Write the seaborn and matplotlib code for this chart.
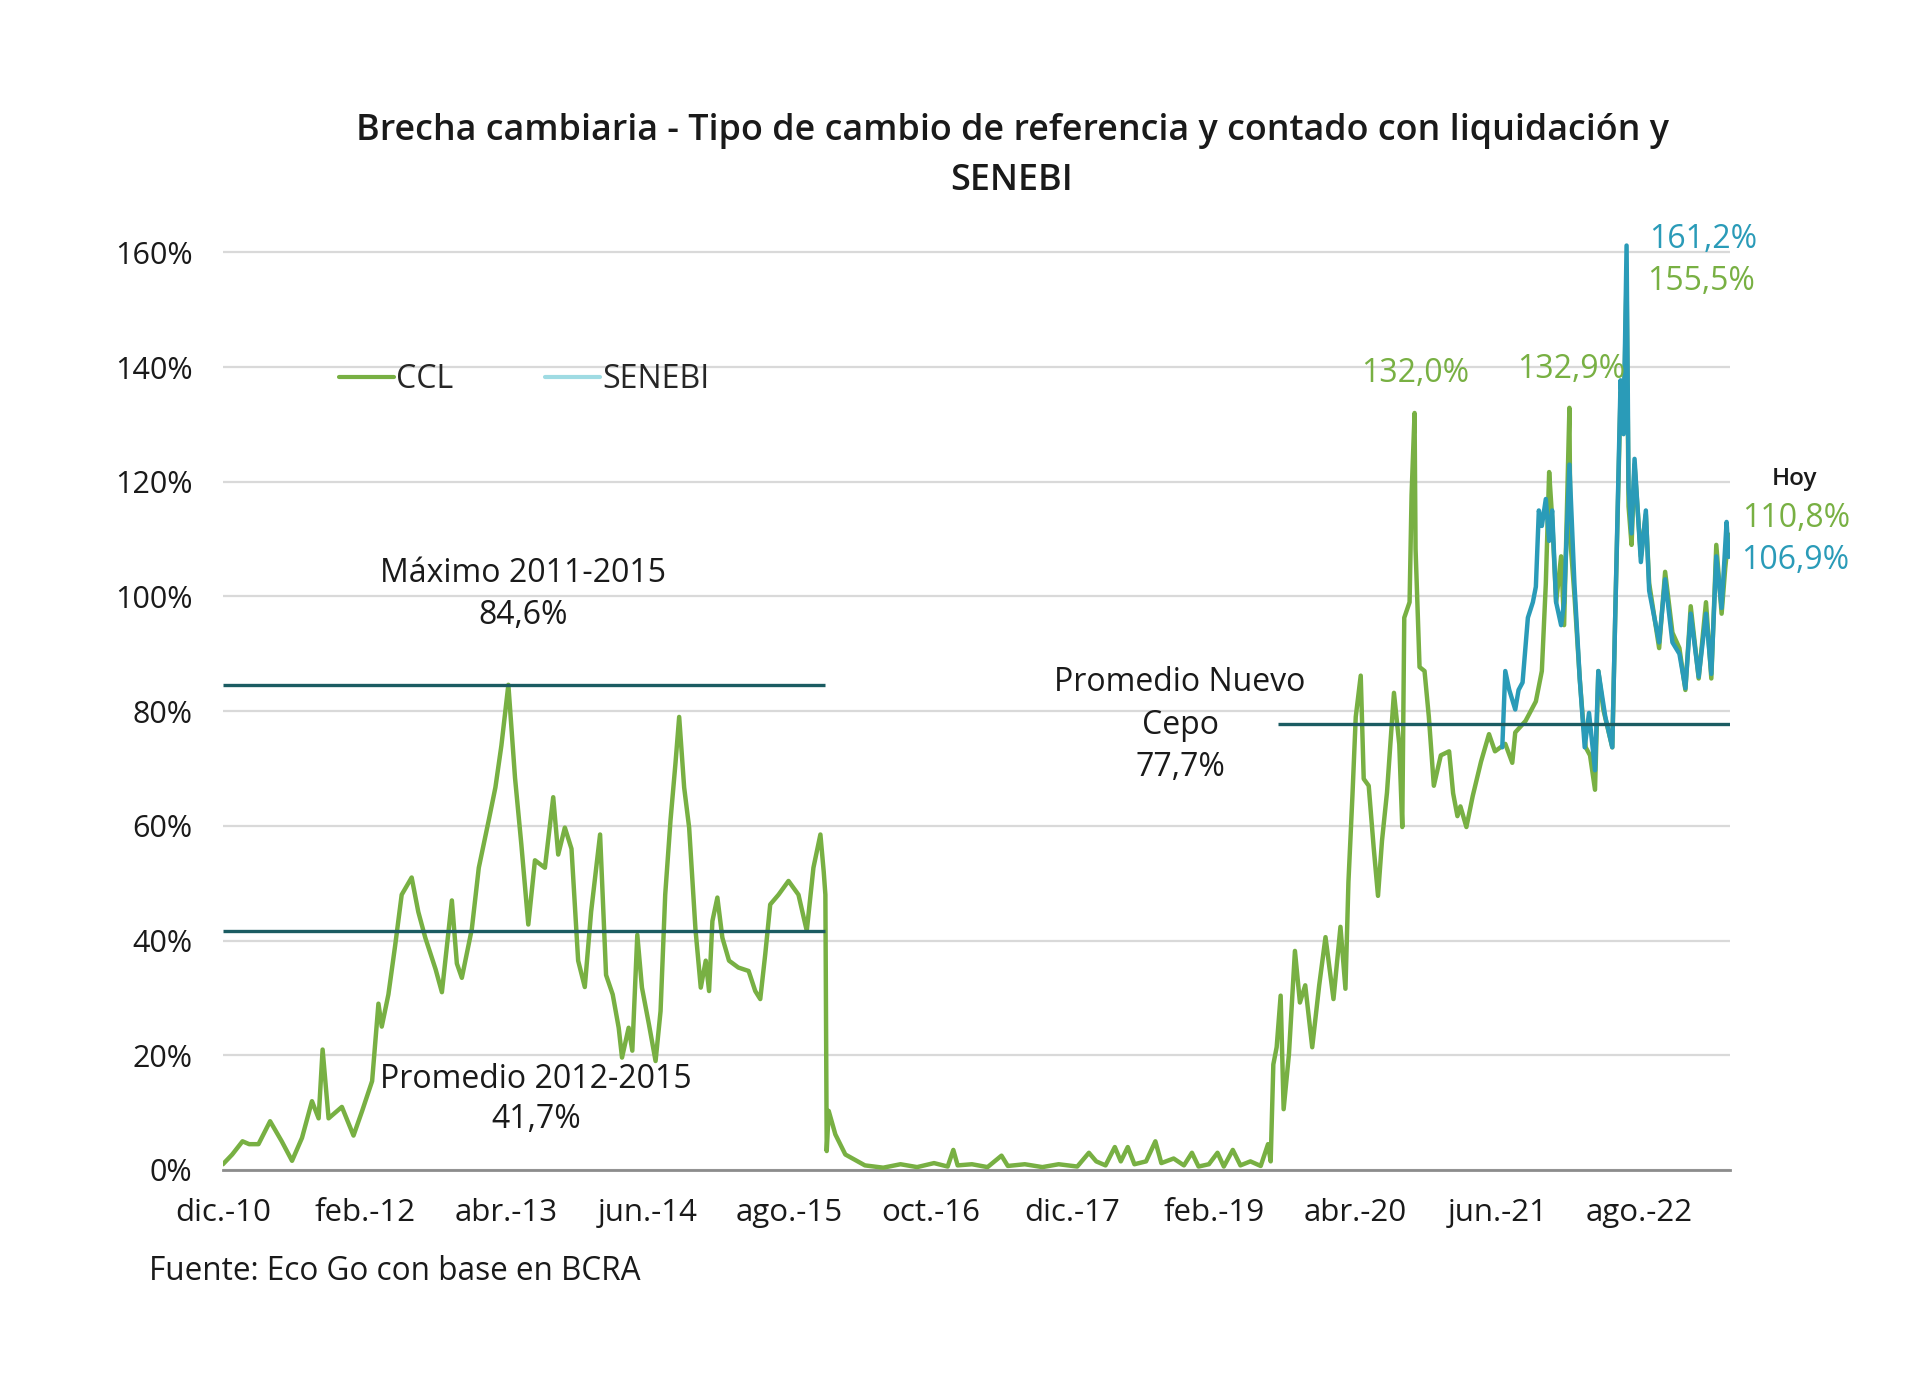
import pandas as pd
import matplotlib.pyplot as plt
from matplotlib.lines import Line2D
from matplotlib.ticker import FuncFormatter
import seaborn as sns

# Brecha CCL (%)
ccl_fechas = [
    "2010-12-01", "2010-12-29", "2011-01-29", "2011-02-18", "2011-03-18", "2011-04-22",
    "2011-05-27", "2011-06-27", "2011-07-27", "2011-08-26", "2011-09-15", "2011-09-27",
    "2011-10-15", "2011-11-24", "2011-12-29", "2012-01-24", "2012-02-23", "2012-03-13",
    "2012-03-23", "2012-04-12", "2012-05-02", "2012-05-22", "2012-06-21", "2012-07-11",
    "2012-08-01", "2012-09-01", "2012-09-20", "2012-10-20", "2012-11-04", "2012-11-19",
    "2012-12-19", "2013-01-09", "2013-02-08", "2013-02-28", "2013-03-18", "2013-04-08",
    "2013-04-28", "2013-05-17", "2013-06-07", "2013-06-27", "2013-07-27", "2013-08-21",
    "2013-09-05", "2013-09-25", "2013-10-15", "2013-11-04", "2013-11-24", "2013-12-13",
    "2014-01-09", "2014-01-27", "2014-02-16", "2014-03-06", "2014-03-16", "2014-04-05",
    "2014-04-16", "2014-05-01", "2014-05-15", "2014-06-05", "2014-06-25", "2014-07-10",
    "2014-07-24", "2014-08-09", "2014-08-24", "2014-09-04", "2014-09-19", "2014-10-04",
    "2014-10-23", "2014-11-08", "2014-11-23", "2014-12-03", "2014-12-13", "2014-12-28",
    "2015-01-12", "2015-02-01", "2015-03-01", "2015-04-01", "2015-04-21", "2015-05-06",
    "2015-05-21", "2015-06-05", "2015-06-30", "2015-07-30", "2015-08-29", "2015-09-23",
    "2015-10-13", "2015-11-03", "2015-11-13", "2015-11-18", "2015-11-22", "2015-11-28",
    "2015-12-18", "2016-01-17", "2016-03-16", "2016-05-10", "2016-07-01", "2016-08-20",
    "2016-10-10", "2016-11-20", "2016-12-07", "2016-12-20", "2017-02-01", "2017-03-20",
    "2017-05-01", "2017-05-20", "2017-07-10", "2017-09-01", "2017-10-20", "2017-12-15",
    "2018-01-19", "2018-02-10", "2018-03-10", "2018-04-07", "2018-04-25", "2018-05-16",
    "2018-06-05", "2018-07-10", "2018-08-07", "2018-08-25", "2018-10-01", "2018-11-01",
    "2018-11-25", "2018-12-15", "2019-01-15", "2019-02-10", "2019-03-01", "2019-03-28",
    "2019-04-20", "2019-05-20", "2019-06-20", "2019-07-12", "2019-07-20", "2019-07-28",
    "2019-08-07", "2019-08-19", "2019-08-28", "2019-09-13", "2019-10-01", "2019-10-16",
    "2019-11-01", "2019-11-22", "2019-12-13", "2020-01-01", "2020-01-25", "2020-02-15",
    "2020-03-01", "2020-03-10", "2020-03-22", "2020-04-01", "2020-04-16", "2020-04-25",
    "2020-05-10", "2020-05-25", "2020-06-07", "2020-06-19", "2020-07-04", "2020-07-25",
    "2020-08-10", "2020-08-19", "2020-08-25", "2020-09-10", "2020-09-16", "2020-09-25",
    "2020-09-28", "2020-10-10", "2020-10-25", "2020-11-07", "2020-11-22", "2020-12-13",
    "2021-01-07", "2021-01-19", "2021-02-01", "2021-02-10", "2021-02-28", "2021-03-19",
    "2021-04-13", "2021-05-07", "2021-05-25", "2021-06-25", "2021-07-16", "2021-07-25",
    "2021-08-25", "2021-09-25", "2021-10-13", "2021-10-25", "2021-11-04", "2021-11-13",
    "2021-11-25", "2021-12-10", "2021-12-19", "2022-01-04", "2022-01-07", "2022-01-19",
    "2022-02-04", "2022-02-13", "2022-02-22", "2022-03-07", "2022-03-22", "2022-04-01",
    "2022-04-16", "2022-05-13", "2022-05-22", "2022-06-07", "2022-06-16", "2022-06-25",
    "2022-07-01", "2022-07-10", "2022-07-19", "2022-08-07", "2022-08-22", "2022-09-01",
    "2022-10-01", "2022-10-19", "2022-11-10", "2022-12-01", "2022-12-19", "2023-01-04",
    "2023-01-28", "2023-02-19", "2023-03-07", "2023-03-22", "2023-04-07", "2023-04-18",
    "2023-04-28",
]
ccl_brecha = [
    1.0, 2.7, 5.0, 4.5, 4.5, 8.5,
    5.0, 1.6, 5.6, 12.0, 9.0, 21.0,
    9.0, 11.0, 6.0, 10.3, 15.5, 29.0,
    25.0, 30.6, 39.0, 48.0, 51.0, 45.0,
    40.5, 35.0, 31.0, 47.0, 36.0, 33.5,
    42.0, 52.7, 61.0, 66.7, 74.0, 84.6,
    68.4, 56.8, 42.8, 54.0, 52.7, 65.0,
    55.0, 59.7, 56.0, 36.5, 31.9, 45.0,
    58.5, 34.0, 30.6, 24.8, 19.6, 24.8,
    20.8, 41.0, 31.8, 25.4, 19.0, 27.7,
    48.0, 61.0, 71.0, 79.0, 66.7, 59.7,
    42.0, 31.8, 36.5, 31.2, 43.4, 47.5,
    40.5, 36.5, 35.3, 34.7, 31.2, 29.8,
    37.6, 46.3, 48.0, 50.4, 48.0, 41.7,
    52.7, 58.5, 52.0, 48.0, 3.3, 10.3,
    6.2, 2.7, 0.8, 0.4, 1.0, 0.5,
    1.2, 0.6, 3.5, 0.8, 1.0, 0.5,
    2.5, 0.7, 1.0, 0.5, 1.0, 0.6,
    3.0, 1.5, 0.8, 4.0, 1.5, 4.0,
    1.0, 1.5, 5.0, 1.2, 2.0, 0.8,
    3.0, 0.6, 1.0, 3.0, 0.6, 3.5,
    0.8, 1.5, 0.7, 4.5, 1.5, 18.4,
    21.4, 30.4, 10.6, 20.2, 38.2, 29.2,
    32.2, 21.4, 32.2, 40.6, 29.8, 42.4,
    31.6, 50.2, 65.2, 79.0, 86.2, 68.2,
    67.0, 56.2, 47.8, 57.4, 65.8, 83.2,
    74.2, 59.8, 96.3, 99.0, 117.7, 132.0,
    108.3, 87.7, 87.0, 79.0, 67.0, 72.3,
    73.0, 65.7, 61.7, 63.4, 59.8, 65.2,
    71.2, 76.0, 73.0, 74.3, 71.0, 76.3,
    78.3, 81.7, 87.0, 102.3, 121.7, 113.7,
    99.0, 107.0, 95.0, 132.9, 109.7, 100.3,
    85.7, 79.0, 73.7, 72.3, 66.3, 87.0,
    80.3, 73.7, 97.0, 135.7, 129.7, 155.5,
    115.7, 109.0, 123.0, 107.0, 114.3, 102.3,
    91.0, 104.3, 93.7, 91.0, 83.7, 98.3,
    85.7, 99.0, 85.7, 109.0, 97.0, 105.0,
    110.8,
]

# Brecha SENEBI (%)
senebi_fechas = [
    "2021-06-16", "2021-06-25", "2021-07-07", "2021-07-25", "2021-08-04", "2021-08-16",
    "2021-09-01", "2021-09-16", "2021-09-25", "2021-10-04", "2021-10-13", "2021-10-25",
    "2021-11-04", "2021-11-13", "2021-11-25", "2021-12-10", "2021-12-19", "2022-01-04",
    "2022-01-19", "2022-02-04", "2022-02-19", "2022-03-04", "2022-03-22", "2022-04-01",
    "2022-04-22", "2022-05-13", "2022-05-22", "2022-06-07", "2022-06-16", "2022-06-25",
    "2022-07-01", "2022-07-10", "2022-07-19", "2022-08-07", "2022-08-22", "2022-09-01",
    "2022-10-01", "2022-10-19", "2022-11-10", "2022-12-01", "2022-12-19", "2023-01-04",
    "2023-01-28", "2023-02-19", "2023-03-07", "2023-03-22", "2023-04-07", "2023-04-22",
    "2023-04-28",
]
senebi_brecha = [
    73.7, 87.0, 83.7, 80.3, 83.7, 85.0,
    96.3, 99.0, 101.7, 115.0, 112.3, 117.0,
    109.7, 115.0, 99.0, 95.0, 99.0, 123.0,
    102.3, 85.7, 73.7, 79.7, 69.7, 87.0,
    79.0, 73.7, 97.0, 137.7, 128.3, 161.2,
    119.0, 111.0, 124.0, 106.0, 115.0, 101.0,
    92.0, 103.0, 92.0, 90.0, 84.0, 97.0,
    86.0, 97.0, 86.5, 107.0, 98.0, 113.0,
    106.9,
]

# niveles de referencia
maximo_fechas = ["2010-12-01", "2015-11-16"]
maximo_valor = [84.6, 84.6]
promedio_fechas = ["2010-12-01", "2015-11-16"]
promedio_valor = [41.7, 41.7]
cepo_fechas = ["2019-08-10", "2023-05-02"]
cepo_valor = [77.7, 77.7]

tick_fechas = ["2010-12-01", "2012-02-01", "2013-04-01", "2014-06-01", "2015-08-01", "2016-10-01",
               "2017-12-01", "2019-02-01", "2020-04-01", "2021-06-01", "2022-08-01"]
tick_labels = ["dic.-10", "feb.-12", "abr.-13", "jun.-14", "ago.-15", "oct.-16",
               "dic.-17", "feb.-19", "abr.-20", "jun.-21", "ago.-22"]

VERDE = "#78b043"
AZUL = "#2a9bb8"
TEAL = "#1b5c62"
NEGRO = "#1a1a1a"

sns.set_style("white")
plt.rcParams['font.family'] = ['Open Sans', 'DejaVu Sans']

ccl = pd.DataFrame({'fecha': pd.to_datetime(ccl_fechas), 'brecha': ccl_brecha})
senebi = pd.DataFrame({'fecha': pd.to_datetime(senebi_fechas), 'brecha': senebi_brecha})

fig = plt.figure(figsize=(19.2, 13.92), dpi=100)
ax = fig.add_axes([0.1161, 0.1595, 0.7849, 0.6839])

sns.lineplot(data=ccl, x='fecha', y='brecha', color=VERDE, lw=3.2, ax=ax, zorder=3)
sns.lineplot(data=senebi, x='fecha', y='brecha', color=AZUL, lw=3.2, ax=ax, zorder=4)
for f, v in [(maximo_fechas, maximo_valor), (promedio_fechas, promedio_valor), (cepo_fechas, cepo_valor)]:
    ax.plot(pd.to_datetime(f), v, color=TEAL, lw=2.4, zorder=5, solid_capstyle='butt')

ax.set_xlim(pd.Timestamp("2010-12-01"), pd.Timestamp("2023-05-02"))
ax.set_ylim(0, 166)
ax.set_yticks(range(0, 161, 20))
ax.yaxis.set_major_formatter(FuncFormatter(lambda v, p: f"{v:.0f}%"))
ax.grid(axis='y', color='#d9d9d9', lw=1.6)
ax.grid(axis='x', visible=False)
ax.set_xticks(pd.to_datetime(tick_fechas))
ax.set_xticklabels(tick_labels)
ax.set_xlabel('')
ax.set_ylabel('')
for s in ['top', 'right', 'left']:
    ax.spines[s].set_visible(False)
ax.spines['bottom'].set_color('#8c8c8c')
ax.spines['bottom'].set_linewidth(2)
ax.tick_params(axis='x', direction='in', length=7, width=1.4, color='#7f7f7f',
               labelsize=22.5, pad=20, labelcolor=NEGRO)
ax.tick_params(axis='y', length=0, labelsize=22, pad=22, labelcolor=NEGRO)


def px(x, y):
    return x / 1920, 1 - y / 1392


fig.text(*px(1012, 131), "Brecha cambiaria - Tipo de cambio de referencia y contado con liquidación y",
         ha='center', va='center', fontsize=25.8, fontweight='semibold', color=NEGRO)
fig.text(*px(1012, 181), "SENEBI", ha='center', va='center', fontsize=25.8, fontweight='semibold', color=NEGRO)

handles = [Line2D([], [], color=VERDE, lw=3), Line2D([], [], color='#9fdbe3', lw=3)]
fig.legend(handles, ['CCL', 'SENEBI'], loc='center left', bbox_to_anchor=px(339, 380),
           frameon=False, ncol=2, fontsize=23, handlelength=1.72, handletextpad=0.08,
           columnspacing=2.85, borderpad=0, borderaxespad=0)

notas = [
    (523, 574, "Máximo 2011-2015", NEGRO), (523, 616, "84,6%", NEGRO),
    (536, 1079, "Promedio 2012-2015", NEGRO), (536, 1120, "41,7%", NEGRO),
    (1180, 682, "Promedio Nuevo", NEGRO), (1180, 725, "Cepo", NEGRO),
    (1180, 767, "77,7%", NEGRO),
    (1415, 373, "132,0%", VERDE), (1571, 369, "132,9%", VERDE),
    (1703, 240, "161,2%", AZUL), (1701, 282, "155,5%", VERDE),
    (1796, 519, "110,8%", VERDE), (1795, 561, "106,9%", AZUL),
]
for x, y, t, c in notas:
    fig.text(*px(x, y), t, ha='center', va='center', fontsize=23, color=c)
fig.text(*px(1795, 479), "Hoy", ha='center', va='center', fontsize=17.5, fontweight='semibold', color=NEGRO)
fig.text(*px(149, 1271), "Fuente: Eco Go con base en BCRA", ha='left', va='center', fontsize=22.7, color=NEGRO)

fig.savefig('out.png', dpi=100, facecolor='white')
